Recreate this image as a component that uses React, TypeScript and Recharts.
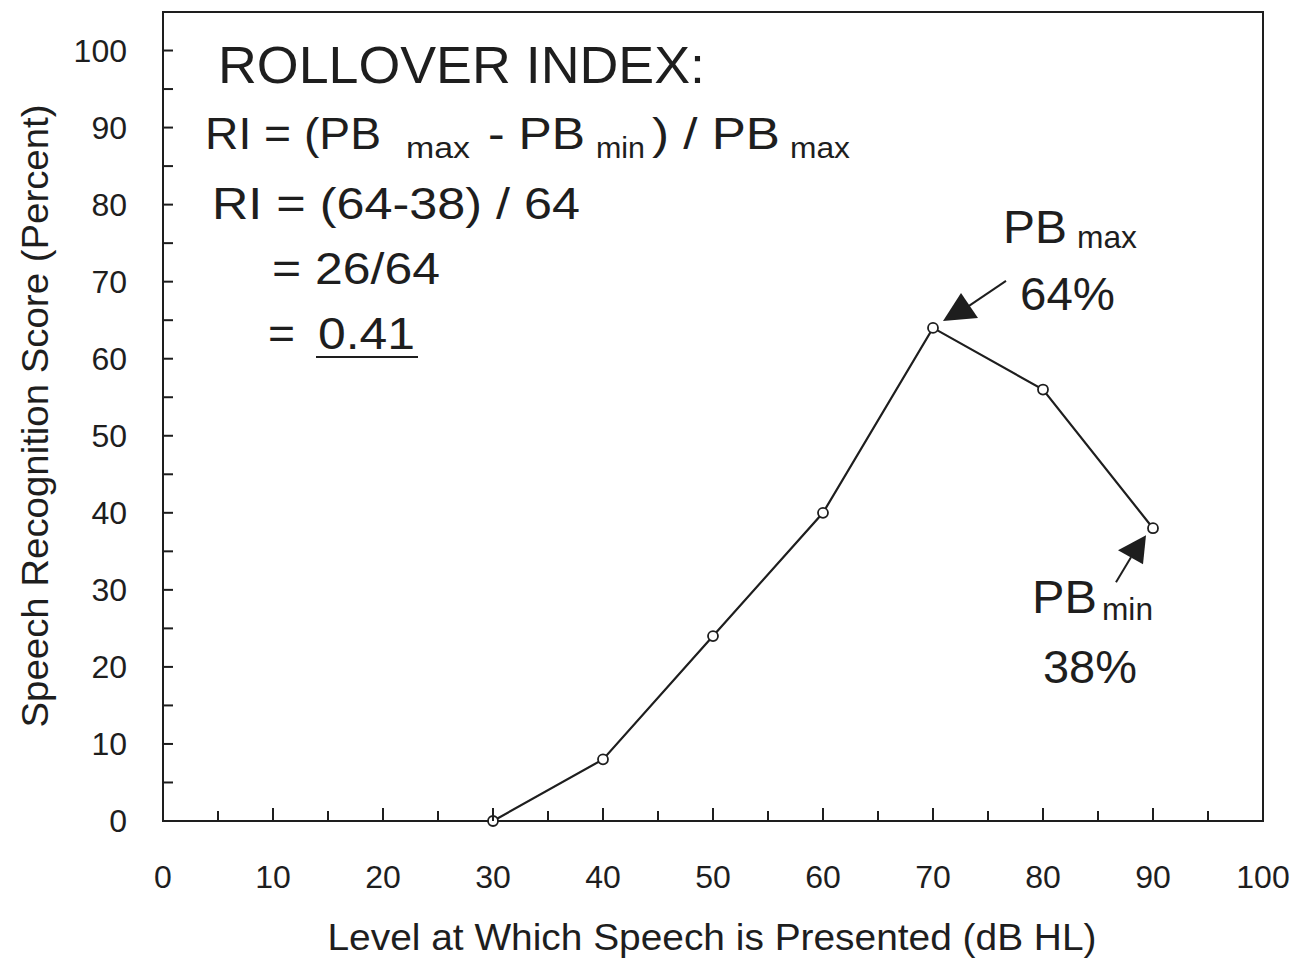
import { Customized, Line, LineChart, ReferenceArea, ReferenceDot, XAxis, YAxis } from "recharts";

// speech level (dB HL) and recognition score (%)
const levels = [30, 40, 50, 60, 70, 80, 90];
const scores = [0, 8, 24, 40, 64, 56, 38];
const xTicks = [0, 5, 10, 15, 20, 25, 30, 35, 40, 45, 50, 55, 60, 65, 70, 75, 80, 85, 90, 95, 100];
const yTicks = [0, 5, 10, 15, 20, 25, 30, 35, 40, 45, 50, 55, 60, 65, 70, 75, 80, 85, 90, 95, 100];
const pbMax = { level: 70, score: 64 };
const pbMin = { level: 90, score: 38 };

const data = levels.map((level, i) => ({ level, score: scores[i] }));

const INK = "#1e1e1e";
const FONT = '"Liberation Sans", Arial, Helvetica, sans-serif';

function XTick(props: any) {
  const { x, y, payload } = props;
  const major = payload.value % 10 === 0;
  return (
    <g>
      {payload.value > 0 && payload.value < 100 && (
        <line x1={x} y1={y} x2={x} y2={y - (major ? 13 : 10)} stroke={INK} strokeWidth={2} />
      )}
      {major && (
        <text x={x} y={y + 67} textAnchor="middle" fontSize={32} fill={INK} fontFamily={FONT}>
          {payload.value}
        </text>
      )}
    </g>
  );
}

function YTick(props: any) {
  const { x, y, payload } = props;
  const major = payload.value % 10 === 0;
  return (
    <g>
      {payload.value > 0 && <line x1={x} y1={y} x2={x + 10} y2={y} stroke={INK} strokeWidth={2} />}
      {major && (
        <text x={x - 36} y={y + 11} textAnchor="end" fontSize={32} fill={INK} fontFamily={FONT}>
          {payload.value}
        </text>
      )}
    </g>
  );
}

function OpenDot(props: any) {
  const { cx, cy, index } = props;
  return <circle key={index} cx={cx} cy={cy} r={5} fill="#fff" stroke={INK} strokeWidth={1.8} />;
}

// arrow pointing at PB max, offsets from the data point
function ArrowMax(props: any) {
  const { cx, cy } = props;
  return (
    <g>
      <line x1={cx + 36} y1={cy - 22} x2={cx + 73} y2={cy - 47} stroke={INK} strokeWidth={2} />
      <polygon points={`${cx + 10},${cy - 7} ${cx + 28},${cy - 35} ${cx + 45},${cy - 10}`} fill={INK} />
    </g>
  );
}

function ArrowMin(props: any) {
  const { cx, cy } = props;
  return (
    <g>
      <line x1={cx - 22} y1={cy + 29} x2={cx - 37} y2={cy + 54} stroke={INK} strokeWidth={2} />
      <polygon points={`${cx - 7},${cy + 7} ${cx - 35},${cy + 22} ${cx - 10},${cy + 36}`} fill={INK} />
    </g>
  );
}

function T(p: { x: number; y: number; s: number; w?: number; children: string; anchor?: string }) {
  return (
    <text
      x={p.x}
      y={p.y}
      fontSize={p.s}
      fill={INK}
      fontFamily={FONT}
      textLength={p.w}
      lengthAdjust="spacingAndGlyphs"
      textAnchor={p.anchor || "start"}
    >
      {p.children}
    </text>
  );
}

function Annotations() {
  return (
    <g>
      <T x={218} y={83} s={52} w={487}>ROLLOVER INDEX:</T>

      <T x={205} y={149} s={44} w={176}>RI = (PB</T>
      <T x={406} y={158} s={30} w={64}>max</T>
      <T x={488} y={149} s={44} w={97}>- PB</T>
      <T x={596} y={158} s={30} w={49}>min</T>
      <T x={652} y={149} s={44} w={128}>) / PB</T>
      <T x={790} y={158} s={30} w={60}>max</T>

      <T x={212} y={219} s={44} w={368}>RI = (64-38) / 64</T>
      <T x={272} y={284} s={44} w={168}>= 26/64</T>
      <T x={268} y={349} s={44} w={27}>=</T>
      <T x={318} y={349} s={44} w={97}>0.41</T>
      <line x1={316} y1={357} x2={418} y2={357} stroke={INK} strokeWidth={2} />

      <T x={1003} y={243} s={46} w={64}>PB</T>
      <T x={1077} y={248} s={32} w={60}>max</T>
      <T x={1020} y={310} s={46} w={95}>64%</T>

      <T x={1032} y={613} s={46} w={65}>PB</T>
      <T x={1102} y={620} s={32} w={51}>min</T>
      <T x={1043} y={683} s={46} w={94}>38%</T>

      <T x={712} y={950} s={37} w={769} anchor="middle">Level at Which Speech is Presented (dB HL)</T>
      <g transform="translate(48,416) rotate(-90)">
        <T x={0} y={0} s={37} w={623} anchor="middle">Speech Recognition Score (Percent)</T>
      </g>
    </g>
  );
}

export default function App() {
  return (
    <div style={{ position: "absolute", left: 0, top: 0, width: 1295, height: 959, background: "#fff" }}>
      <LineChart width={1295} height={959} data={data} margin={{ top: 12, right: 32, bottom: 0, left: 0 }}>
        <XAxis
          dataKey="level"
          type="number"
          domain={[0, 100]}
          ticks={xTicks}
          interval={0}
          height={138}
          tickSize={0}
          tickMargin={0}
          tickLine={false}
          axisLine={{ stroke: INK, strokeWidth: 2 }}
          tick={<XTick />}
        />
        <YAxis
          type="number"
          domain={[0, 105]}
          ticks={yTicks}
          interval={0}
          width={163}
          tickSize={0}
          tickMargin={0}
          tickLine={false}
          axisLine={{ stroke: INK, strokeWidth: 2 }}
          tick={<YTick />}
        />
        <ReferenceArea x1={0} x2={100} y1={0} y2={105} fill="none" stroke={INK} strokeWidth={2} />
        <Line
          type="linear"
          dataKey="score"
          stroke={INK}
          strokeWidth={2.2}
          dot={<OpenDot />}
          activeDot={false}
          isAnimationActive={false}
        />
        <ReferenceDot x={pbMax.level} y={pbMax.score} shape={<ArrowMax />} />
        <ReferenceDot x={pbMin.level} y={pbMin.score} shape={<ArrowMin />} />
        <Customized component={<Annotations />} />
      </LineChart>
    </div>
  );
}
